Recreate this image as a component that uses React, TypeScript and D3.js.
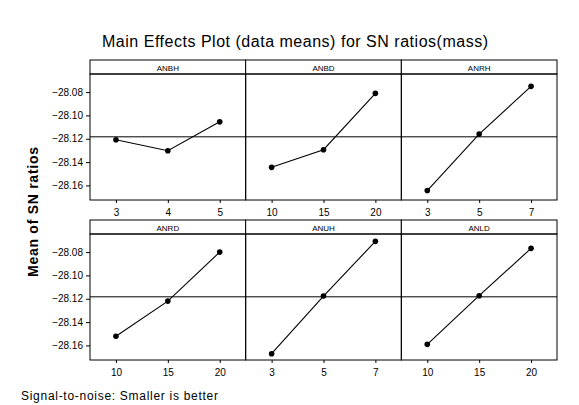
import * as d3 from 'd3';
import { useEffect, useRef } from 'react';

// factors and their levels
const factors = ['ANBH', 'ANBD', 'ANRH', 'ANRD', 'ANUH', 'ANLD'];
const levels = [
    [3, 4, 5],
    [10, 15, 20],
    [3, 5, 7],
    [10, 15, 20],
    [3, 5, 7],
    [10, 15, 20],
];
// mean of SN ratios per level
const snMeans = [
    [-28.1209, -28.1303, -28.1055],
    [-28.1445, -28.1294, -28.0811],
    [-28.1644, -28.1160, -28.0751],
    [-28.1522, -28.1220, -28.0800],
    [-28.1671, -28.1177, -28.0708],
    [-28.1591, -28.1174, -28.0768],
];
const yTicks = [-28.08, -28.10, -28.12, -28.14, -28.16];

const width = 579;
const height = 405;
const grid = { left: 90, right: 557 };
const rows = [
    { stripTop: 60, top: 74, bottom: 200 },
    { stripTop: 220, top: 234, bottom: 360 },
];
const font = '"Liberation Sans", Arial, Helvetica, sans-serif';

function App() {
    const svgRef = useRef(null);

    useEffect(() => {
        const svg = d3.select(svgRef.current);
        svg.selectAll('*').remove();

        const panelW = (grid.right - grid.left) / 3;
        const grandMean = d3.mean(snMeans.flat());

        // title
        svg.append('text')
            .attr('x', 102).attr('y', 47)
            .attr('font-size', 16)
            .attr('textLength', 386)
            .attr('lengthAdjust', 'spacing')
            .text('Main Effects Plot (data means) for SN ratios(mass)');

        // y axis title
        svg.append('text')
            .attr('transform', 'translate(38, 212) rotate(-90)')
            .attr('text-anchor', 'middle')
            .attr('font-size', 14)
            .attr('font-weight', 'bold')
            .attr('textLength', 130)
            .attr('lengthAdjust', 'spacing')
            .text('Mean of SN ratios');

        // footer
        svg.append('text')
            .attr('x', 21).attr('y', 400)
            .attr('font-size', 12)
            .attr('textLength', 197)
            .attr('lengthAdjust', 'spacing')
            .text('Signal-to-noise: Smaller is better');

        rows.forEach((row, r) => {
            const yScale = d3.scaleLinear()
                .domain([-28.1725, -28.0645])
                .range([row.bottom, row.top]);

            for (let c = 0; c < 3; c++) {
                const i = r * 3 + c;
                const x0 = grid.left + c * panelW;
                const xScale = d3.scalePoint()
                    .domain(levels[i].map(String))
                    .range([x0, x0 + panelW])
                    .padding(0.5);

                const g = svg.append('g');

                // strip header
                g.append('rect')
                    .attr('x', x0).attr('y', row.stripTop)
                    .attr('width', panelW).attr('height', row.top - row.stripTop)
                    .attr('fill', '#fff').attr('stroke', '#000');
                g.append('text')
                    .attr('x', x0 + panelW / 2).attr('y', row.stripTop + 10.5)
                    .attr('text-anchor', 'middle')
                    .attr('font-size', 8)
                    .text(factors[i]);

                // panel frame
                g.append('rect')
                    .attr('x', x0).attr('y', row.top)
                    .attr('width', panelW).attr('height', row.bottom - row.top)
                    .attr('fill', 'none').attr('stroke', '#000');

                // x axis
                const xAxis = d3.axisBottom(xScale).tickSize(3).tickSizeOuter(0);
                const xg = g.append('g')
                    .attr('transform', `translate(0, ${row.bottom})`)
                    .call(xAxis);
                xg.select('.domain').remove();
                xg.selectAll('text').attr('font-size', 10).attr('font-family', font).attr('dy', '0.95em');

                // y axis only on first column
                if (c === 0) {
                    const yAxis = d3.axisLeft(yScale)
                        .tickValues(yTicks)
                        .tickFormat(d3.format('.2f'))
                        .tickSize(4)
                        .tickSizeOuter(0);
                    const yg = g.append('g')
                        .attr('transform', `translate(${x0}, 0)`)
                        .call(yAxis);
                    yg.select('.domain').remove();
                    yg.selectAll('text').attr('font-size', 10).attr('font-family', font);
                }

                // line and points
                const pts = levels[i].map((lv, k) => [xScale(String(lv)), yScale(snMeans[i][k])]);
                g.append('path')
                    .attr('d', d3.line()(pts))
                    .attr('fill', 'none').attr('stroke', '#000').attr('stroke-width', 1.1);
                g.selectAll('circle').data(pts).enter().append('circle')
                    .attr('cx', d => d[0]).attr('cy', d => d[1])
                    .attr('r', 2.8).attr('fill', '#000');
            }

            // grand mean reference line across the row
            svg.append('line')
                .attr('x1', grid.left).attr('x2', grid.right)
                .attr('y1', yScale(grandMean)).attr('y2', yScale(grandMean))
                .attr('stroke', '#000').attr('stroke-width', 1);
        });
    }, []);

    return (
        <svg ref={svgRef} width={width} height={height}
            style={{ position: 'absolute', left: 0, top: 0, background: '#fff', fontFamily: font }} />
    );
}

export default App;
